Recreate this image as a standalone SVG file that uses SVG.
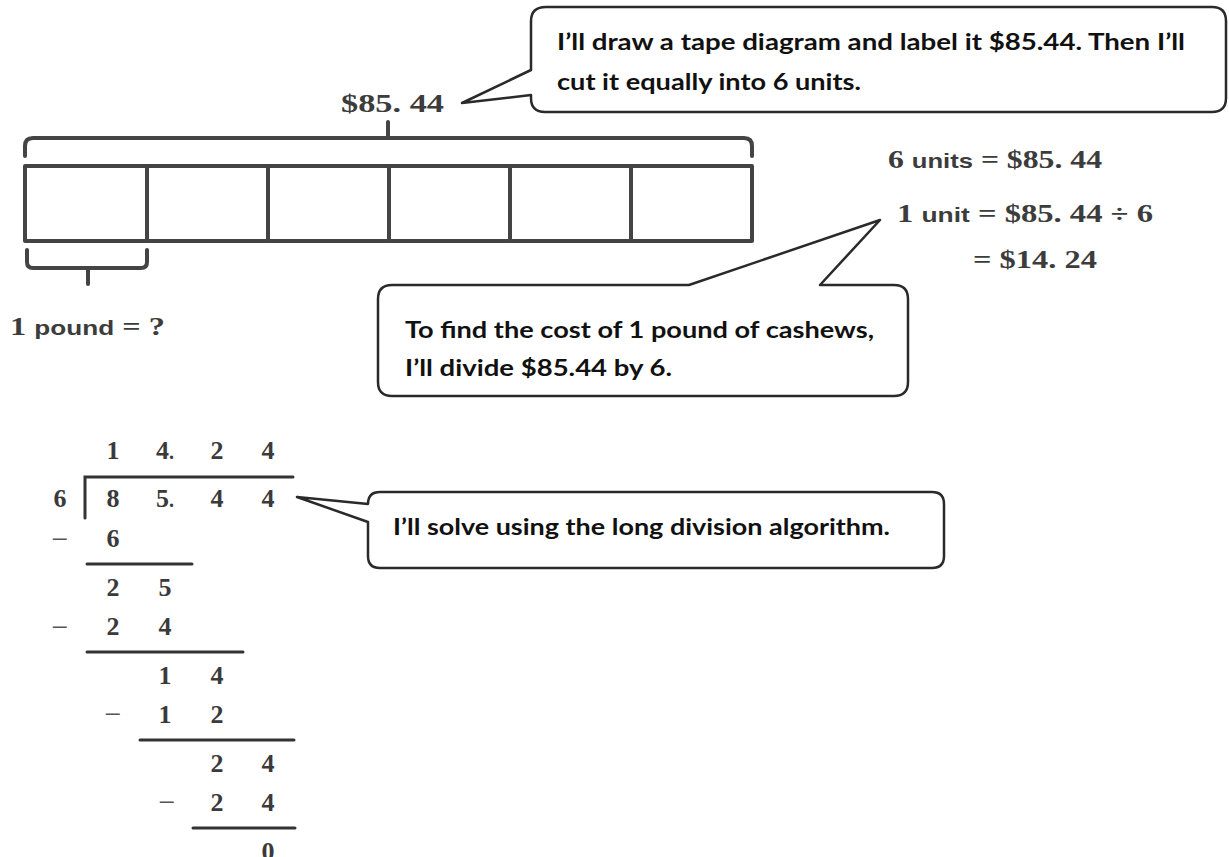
<svg xmlns="http://www.w3.org/2000/svg" width="1229" height="857" viewBox="0 0 1229 857">
<style>
.bg{fill:#ffffff}
.ln{fill:none;stroke:#444444;stroke-width:4;stroke-linecap:round;stroke-linejoin:round}
.thin{fill:none;stroke:#333333;stroke-width:3;stroke-linecap:round}
.bub{fill:#ffffff;stroke:#2a2a2a;stroke-width:2.5;stroke-linejoin:round}
.ct{font-family:Lato,"Open Sans","Liberation Sans",sans-serif;font-weight:bold;font-size:23px;fill:#111111}
.m{font-family:"Liberation Serif","DejaVu Serif",serif;font-weight:bold;font-size:26px;fill:#3c3c3c}
.ms{font-family:"Liberation Sans",Arial,sans-serif;font-weight:bold;font-size:21px;fill:#3c3c3c}
.d{font-family:"Liberation Serif","DejaVu Serif",serif;font-weight:bold;font-size:26px;fill:#3a3a3a;text-anchor:middle}
.mi{font-family:"Liberation Serif","DejaVu Serif",serif;font-size:30px;fill:#555555;text-anchor:middle}
</style>
<rect class="bg" x="0" y="0" width="1229" height="857"/>

<g id="tape">
  <rect class="ln" x="25" y="166" width="727" height="75"/>
  <path class="ln" d="M147,166 L147,241 M268,166 L268,241 M389,166 L389,241 M510,166 L510,241 M631,166 L631,241"/>
</g>
<g id="top-brace">
  <path class="ln" d="M25,156 L25,146 Q25,138 33,138 L744,138 Q752,138 752,146 L752,156 M388,138 L388,122"/>
  <text class="m" x="341" y="112" font-size="28" textLength="103" lengthAdjust="spacingAndGlyphs">$85. 44</text>
</g>
<g id="bottom-brace">
  <path class="ln" d="M27,250 L27,262 Q27,268 33,268 L141,268 Q147,268 147,262 L147,250 M88,268 L88,284"/>
  <text x="10" y="335" textLength="155" lengthAdjust="spacingAndGlyphs"><tspan class="m">1 </tspan><tspan class="ms">pound</tspan><tspan class="m" font-weight="normal"> = ?</tspan></text>
</g>

<g id="equations">
  <text x="888" y="168" textLength="214" lengthAdjust="spacingAndGlyphs"><tspan class="m">6 </tspan><tspan class="ms">units</tspan><tspan class="m"> = $85. 44</tspan></text>
  <text x="897" y="222" textLength="256" lengthAdjust="spacingAndGlyphs"><tspan class="m">1 </tspan><tspan class="ms">unit</tspan><tspan class="m"> = $85. 44 ÷ 6</tspan></text>
  <text class="m" x="973" y="268" textLength="124" lengthAdjust="spacingAndGlyphs">= $14. 24</text>
</g>

<g id="callout-top">
  <path class="bub" d="M546,7 L1212,7 Q1226,7 1226,21 L1226,98 Q1226,112 1212,112 L545,112 Q531,112 531,98 L531,95 L462,103 L531,70 L531,21 Q531,7 546,7 Z"/>
  <text class="ct" x="557" y="50" textLength="628" lengthAdjust="spacingAndGlyphs">I’ll draw a tape diagram and label it $85.44.  Then I’ll</text>
  <text class="ct" x="557" y="90" textLength="304" lengthAdjust="spacingAndGlyphs">cut it equally into 6 units.</text>
</g>

<g id="callout-middle">
  <path class="bub" d="M392,285 L689,285 L880,220 L820,285 L894,285 Q908,285 908,299 L908,382 Q908,396 894,396 L392,396 Q378,396 378,382 L378,299 Q378,285 392,285 Z"/>
  <text class="ct" x="405" y="338" textLength="469" lengthAdjust="spacingAndGlyphs">To find the cost of 1 pound of cashews,</text>
  <text class="ct" x="405" y="376" textLength="267" lengthAdjust="spacingAndGlyphs">I’ll divide $85.44 by 6.</text>
</g>

<g id="callout-bottom">
  <path class="bub" d="M380,492 L932,492 Q944,492 944,504 L944,556 Q944,568 932,568 L380,568 Q368,568 368,556 L368,522 L297,497 L368,504 Q368,492 380,492 Z"/>
  <text class="ct" x="393" y="535" textLength="497" lengthAdjust="spacingAndGlyphs">I’ll solve using the long division algorithm.</text>
</g>

<g id="long-division">
  <path class="thin" d="M85,518 L85,477 L293,477"/>
  <path class="thin" d="M87,564 L192,564 M87,652 L243,652 M140,740 L294,740 M193,828 L295,828"/>
  <text class="d" x="113" y="459">1</text>
  <text class="d" x="165" y="459">4<tspan font-size="20">.</tspan></text>
  <text class="d" x="217" y="459">2</text>
  <text class="d" x="268" y="459">4</text>
  <text class="d" x="60" y="507">6</text>
  <text class="d" x="113" y="507">8</text>
  <text class="d" x="165" y="507">5<tspan font-size="20">.</tspan></text>
  <text class="d" x="217" y="507">4</text>
  <text class="d" x="268" y="507">4</text>
  <text class="mi" x="60" y="549">−</text>
  <text class="d" x="113" y="547">6</text>
  <text class="d" x="113" y="596">2</text>
  <text class="d" x="165" y="596">5</text>
  <text class="mi" x="60" y="637">−</text>
  <text class="d" x="113" y="635">2</text>
  <text class="d" x="165" y="635">4</text>
  <text class="d" x="165" y="684">1</text>
  <text class="d" x="217" y="684">4</text>
  <text class="mi" x="113" y="724">−</text>
  <text class="d" x="165" y="723">1</text>
  <text class="d" x="217" y="723">2</text>
  <text class="d" x="217" y="772">2</text>
  <text class="d" x="268" y="772">4</text>
  <text class="mi" x="167" y="812">−</text>
  <text class="d" x="217" y="811">2</text>
  <text class="d" x="268" y="811">4</text>
  <text class="d" x="268" y="860">0</text>
</g>
</svg>
